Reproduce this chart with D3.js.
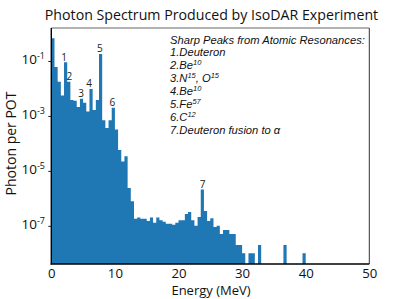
<!DOCTYPE html>
<html><head><meta charset="utf-8">
<script src="https://cdn.jsdelivr.net/npm/d3@7"></script>
<style>body{margin:0;background:#fff} svg{display:block}</style>
</head><body><svg id="c" width="399" height="299"></svg>
<script>
// ---- data ----
const binStart = 0, binWidth = 0.5;   // MeV
const photonPerPOT = [
  0.67, 0.06, 0.0177, 0.0055, 0.089, 0.0177, 0.0038, 0.0036, 0.0021, 0.0042,
  0.0030, 0.00145, 0.0096, 0.00166, 0.0038, 0.18, 6.9e-4, 3.6e-4, 6.9e-4, 2.0e-3,
  3.2e-4, 5.8e-5, 2.2e-5, 3.4e-5, 2.4e-6, 7.9e-7, 1.8e-7, 2.0e-7, 1.8e-7, 1.8e-7,
  1.5e-7, 2.0e-7, 1.3e-7, 2.0e-7, 1.6e-7, 1.4e-7, 1.2e-7, 1.2e-7, 1.1e-7, 1.3e-7,
  1.6e-7, 1.6e-7, 2.7e-7, 3.2e-7, 1.6e-7, 1.0e-7, 2.1e-7, 2.12e-6, 3.5e-7, 1.5e-7,
  1.9e-7, 9e-8, 1.0e-7, 5e-8, 7e-8, 7e-8, 5e-8, 5e-8, 2e-8, 2e-8,
  1e-8, 0, 1e-8, 1e-8, 0, 2e-8, 0, 0, 0, 0,
  0, 0, 0, 2e-8, 0, 0, 0, 0, 0, 1e-8
];
const xTicks = [0, 10, 20, 30, 40, 50];
const yTickExponents = [-1, -3, -5, -7];
const peakLabels = ["1", "2", "3", "4", "5", "6", "7"];
const peakEnergies = [2.03, 2.85, 4.7, 5.95, 7.65, 9.6, 23.8];
const peakBins = [4, 5, 9, 12, 15, 19, 47];
const titleText = "Photon Spectrum Produced by IsoDAR Experiment";
const xLabel = "Energy (MeV)";
const yLabel = "Photon per POT";
const legendTitle = "Sharp Peaks from Atomic Resonances:";
const legendLines = [
  [["1.Deuteron"]],
  [["2.Be"], ["10", 1]],
  [["3.N"], ["15", 1], [", O"], ["15", 1]],
  [["4.Be"], ["10", 1]],
  [["5.Fe"], ["57", 1]],
  [["6.C"], ["12", 1]],
  [["7.Deuteron fusion to α"]]
];

// ---- layout ----
const L = 51.3, R = 369.3, T = 28, B = 264;
const svg = d3.select("#c");
const x = d3.scaleLinear([0, 50], [L, R]);
const y = d3.scaleLog([4.08e-9, 1.585], [B, T]);
const font = "'Open Sans', sans-serif";

// bars: one path so adjacent bins have no seams
const bins = photonPerPOT.map((v, i) => ({x0: binStart + i * binWidth, x1: binStart + (i + 1) * binWidth, v}))
  .filter(d => d.v > 0);
const p = d3.path();
bins.forEach(d => p.rect(x(d.x0), y(d.v), x(d.x1) - x(d.x0), B - y(d.v)));
svg.append("path").attr("d", p.toString()).attr("fill", "#1f77b4");

// frame
svg.append("line").attr("x1", L).attr("x2", R).attr("y1", T).attr("y2", T).attr("stroke", "#666").attr("stroke-width", 1);
svg.append("line").attr("x1", R).attr("x2", R).attr("y1", T).attr("y2", B).attr("stroke", "#333").attr("stroke-width", 1);
svg.append("line").attr("x1", L).attr("x2", L).attr("y1", T).attr("y2", B + 0.6).attr("stroke", "#000").attr("stroke-width", 1.4);
svg.append("line").attr("x1", L - 0.7).attr("x2", R).attr("y1", B).attr("y2", B).attr("stroke", "#000").attr("stroke-width", 1.4);

// x axis
const gx = svg.append("g").attr("transform", `translate(0,${B})`)
  .call(d3.axisBottom(x).tickValues(xTicks).tickSize(0).tickPadding(14));
gx.select(".domain").remove();
gx.selectAll("text").attr("font-family", font).attr("font-size", 13.2).attr("fill", "#111").attr("dy", 0);

// y axis
const yTickValues = yTickExponents.map(e => Math.pow(10, e));
const gy = svg.append("g").attr("transform", `translate(${L},0)`)
  .call(d3.axisLeft(y).tickValues(yTickValues).tickSize(3).tickFormat(""));
gy.select(".domain").remove();
gy.selectAll(".tick line").attr("stroke", "#222");
yTickExponents.forEach(e => {
  const t = svg.append("text").attr("x", 45).attr("y", y(Math.pow(10, e)) + 3.5)
    .attr("text-anchor", "end").attr("font-family", font).attr("fill", "#111");
  t.append("tspan").attr("font-size", 13.5).text("10");
  t.append("tspan").attr("font-size", 9).attr("dy", -5).text(String(e));
});

// labels
svg.append("text").attr("x", 211.5).attr("y", 20).attr("text-anchor", "middle")
  .attr("font-family", font).attr("font-size", 14.2).attr("fill", "#111").text(titleText);
svg.append("text").attr("x", 211).attr("y", 295.3).attr("text-anchor", "middle")
  .attr("font-family", font).attr("font-size", 13).attr("fill", "#111").text(xLabel);
svg.append("text").attr("transform", "translate(15.5,143.5) rotate(-90)").attr("text-anchor", "middle")
  .attr("font-family", font).attr("font-size", 14).attr("fill", "#111").text(yLabel);

// peak labels
svg.append("g").selectAll("text").data(peakLabels).join("text")
  .attr("x", (d, i) => x(peakEnergies[i]))
  .attr("y", (d, i) => y(photonPerPOT[peakBins[i]]) - 1.8)
  .attr("text-anchor", "middle").attr("font-family", font).attr("font-size", 10)
  .attr("fill", "#222").text(d => d);

// legend
const lf = "'Liberation Sans', Arial, sans-serif";
const lg = svg.append("g").attr("font-family", lf).attr("font-style", "italic").attr("fill", "#111");
lg.append("text").attr("x", 170).attr("y", 43.5).attr("font-size", 11.2).text(legendTitle);
legendLines.forEach((segs, i) => {
  const t = lg.append("text").attr("x", 170).attr("y", 43.5 + (i + 1) * 12.86).attr("font-size", 11.2);
  let raised = false;
  segs.forEach(s => {
    const sp = t.append("tspan").text(s[0]);
    if (s[1]) { sp.attr("font-size", 7.5).attr("dy", raised ? 0 : -4); raised = true; }
    else if (raised) { sp.attr("dy", 4); raised = false; }
  });
});
</script></body></html>
